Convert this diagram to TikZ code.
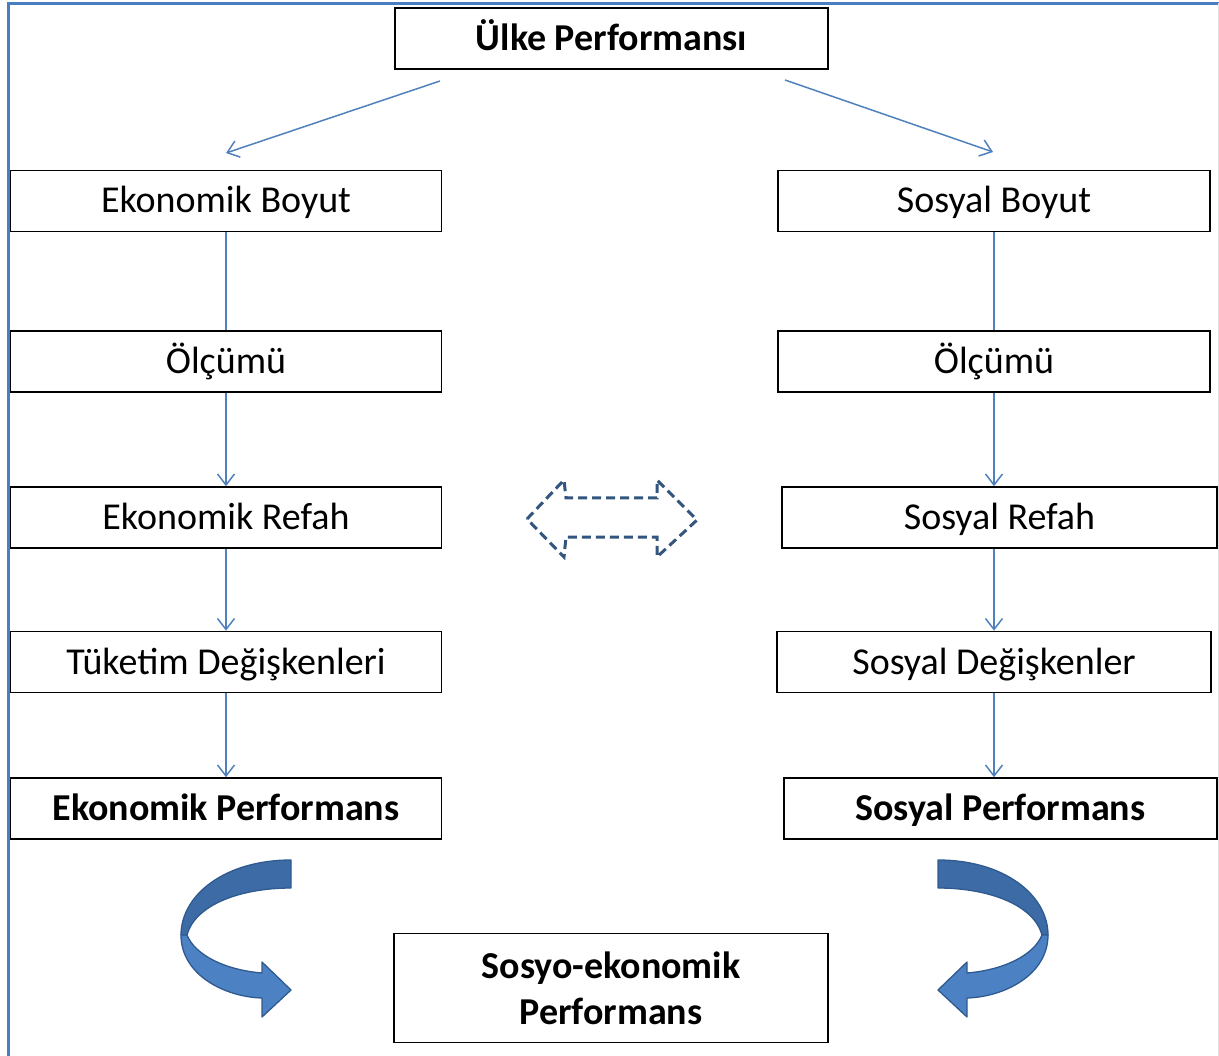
\documentclass[tikz,border=0pt]{standalone}
\usepackage{fontspec}
\setmainfont{Carlito}
\usetikzlibrary{arrows.meta}
\definecolor{lineblue}{HTML}{4F81BD}
\definecolor{framblue}{HTML}{4A7EC2}
\definecolor{dashnavy}{HTML}{34557E}
\definecolor{curvedark}{HTML}{3D6BA5}
\definecolor{curvelight}{HTML}{4C82C4}
\definecolor{curveline}{HTML}{2F5A8F}
\tikzset{
  boxbase/.style={draw=black, line width=1.6pt, minimum width=432pt, minimum height=61pt, inner sep=0pt, align=center},
  box/.style={boxbase, text height=32pt, text depth=8pt, font=\fontsize{38}{46}\selectfont},
  boldbox/.style={box, font=\fontsize{38}{46}\selectfont\bfseries},
  conn/.style={draw=lineblue, line width=1.5pt},
  arr/.style={conn, -{Straight Barb[length=11pt,width=17pt,line width=1.5pt]}},
  dashedarrow/.style={draw=dashnavy, line width=3pt, dash pattern=on 9pt off 5pt, line join=miter},
  curveback/.style={fill=curvedark, draw=curveline, line width=1.3pt, line join=round},
  curvefront/.style={fill=curvelight, draw=curveline, line width=1.3pt, line join=round}
}
\begin{document}
\begin{tikzpicture}[x=1pt, y=-1pt]
\useasboundingbox (0,0) rectangle (1219,1056);
% frame
\draw[framblue, line width=3pt] (8,1056) -- (8,3.5) -- (1219,3.5);
\draw[black!12, line width=1pt] (1218,3) -- (1218,1056);

% nodes
\node[boldbox, minimum width=433pt] (top) at (611.5,38.5) {Ülke Performansı};

\node[box, minimum width=431pt] (eb) at (226,201) {Ekonomik Boyut};
\node[box, minimum width=431pt] (eo) at (226,361.5) {Ölçümü};
\node[box, minimum width=431pt] (er) at (226,517.5) {Ekonomik Refah};
\node[box, minimum width=431pt] (et) at (226,662) {Tüketim Değişkenleri};
\node[boldbox, minimum width=431pt] (ep) at (226,808.5) {Ekonomik Performans};

\node[box] (sb) at (994,201) {Sosyal Boyut};
\node[box] (so) at (994,361.5) {Ölçümü};
\node[box, minimum width=435pt] (sr) at (999.5,517.5) {Sosyal Refah};
\node[box, minimum width=434pt] (sd) at (994,662) {Sosyal Değişkenler};
\node[boldbox, minimum width=433pt] (sp) at (1000.5,808.5) {Sosyal Performans};

\node[boxbase, minimum width=434pt, minimum height=109pt, font=\fontsize{38}{46}\selectfont\bfseries] (se) at (611,988) {Sosyo-ekonomik\\Performans};

% top arrows
\coordinate (tls) at (440,81);
\coordinate (tle) at (226,153);
\coordinate (trs) at (785,80);
\coordinate (tre) at (993,152);
\draw[arr] (tls) -- (tle);
\draw[arr] (trs) -- (tre);

% left column
\draw[conn] (eb.south) -- (eo.north);
\draw[arr] (eo.south) -- (er.north);
\draw[arr] (er.south) -- (et.north);
\draw[arr] (et.south) -- (ep.north);

% right column
\draw[conn] (sb.south) -- (so.north);
\draw[arr] (so.south) -- (so.south |- sr.north);
\draw[arr] (sr.south -| so.south) -- (sd.north);
\draw[arr] (sd.south) -- (sd.south |- sp.north);

% dashed double arrow
\draw[dashedarrow] (527,519) -- (564,480) -- (566,498) -- (657,498) -- (657,480)
  -- (697,520) -- (657,557) -- (657,537) -- (566,537) -- (564,557) -- cycle;

% curved arrows (left, then mirrored right)
\foreach \xs/\xsh in {1/0,-1/1229}{
\begin{scope}[xshift=\xsh pt, xscale=\xs]
\path[curveback] (291,860) .. controls (225,860) and (181,895) .. (181,935)
  -- (187,935) .. controls (195,905) and (240,888) .. (291,888) -- cycle;
\path[curvefront] (181,935) .. controls (181,975) and (225,997) .. (262,998)
  -- (262,1017) -- (291,990) -- (262,962) -- (262,973)
  .. controls (225,970) and (195,955) .. (187,935) -- cycle;
\end{scope}
}
\end{tikzpicture}
\end{document}
